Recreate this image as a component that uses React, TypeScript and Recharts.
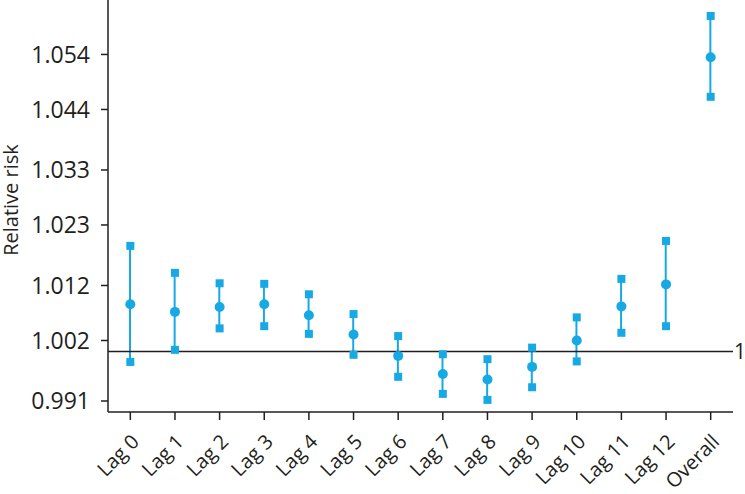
import { ComposedChart, Bar, Line, XAxis, YAxis, ReferenceLine } from 'recharts'

// categories + estimates
const lags = ['Lag 0', 'Lag 1', 'Lag 2', 'Lag 3', 'Lag 4', 'Lag 5', 'Lag 6', 'Lag 7', 'Lag 8', 'Lag 9', 'Lag 10', 'Lag 11', 'Lag 12', 'Overall']
const rr = [1.0086, 1.0072, 1.0081, 1.0086, 1.0066, 1.0031, 0.9992, 0.9959, 0.9949, 0.9972, 1.002, 1.0082, 1.0122, 1.0535]
const upper = [1.0192, 1.0143, 1.0124, 1.0123, 1.0104, 1.0068, 1.0028, 0.9995, 0.9986, 1.0007, 1.0062, 1.0132, 1.0201, 1.061]
const lower = [0.9981, 1.0003, 1.0042, 1.0046, 1.0032, 0.9994, 0.9954, 0.9923, 0.9912, 0.9935, 0.9982, 1.0034, 1.0046, 1.0463]
const yTicks = [0.991, 1.002, 1.012, 1.023, 1.033, 1.044, 1.054]

const BLUE = '#16a9e4'
const INK = '#231f20'
const FONT = '"Open Sans", sans-serif'

const chartData = lags.map((lag, i) => ({
  lag,
  rr: rr[i],
  upper: upper[i],
  lower: lower[i],
  range: [lower[i], upper[i]],
}))

const SquareDot = (props: any) => {
  const { cx, cy, index } = props
  if (cx == null || cy == null) return <g key={index} />
  return <rect key={index} x={cx - 4} y={cy - 4} width={8} height={8} fill={BLUE} />
}

const LagTick = (props: any) => {
  const { x, y, payload } = props
  const tx = x + 10
  const ty = y + 21
  return (
    <text
      x={tx}
      y={ty}
      transform={`rotate(-45, ${tx}, ${ty})`}
      textAnchor="end"
      fill={INK}
      fontSize={20}
      fontFamily={FONT}
    >
      {payload.value}
    </text>
  )
}

export default function App() {
  return (
    <div style={{ position: 'absolute', left: 0, top: 0 }}>
      <ComposedChart
        width={745}
        height={494}
        data={chartData}
        margin={{ top: 0, right: 12, left: 0, bottom: 0 }}
      >
        <XAxis
          dataKey="lag"
          height={82}
          interval={0}
          tick={<LagTick />}
          tickSize={8}
          stroke={INK}
          strokeWidth={1.5}
          tickLine={{ stroke: INK, strokeWidth: 1.5 }}
        />
        <YAxis
          type="number"
          width={108}
          domain={[0.989, 1.0639]}
          ticks={yTicks}
          allowDataOverflow
          tickFormatter={(v: number) => v.toFixed(3)}
          tickSize={7}
          tickMargin={11}
          stroke={INK}
          strokeWidth={1.5}
          tick={{ fill: INK, fontSize: 23, fontFamily: FONT }}
          label={{
            value: 'Relative risk',
            angle: -90,
            position: 'insideLeft',
            offset: 11,
            dy: -6,
            style: { fill: INK, fontSize: 20, fontFamily: FONT, textAnchor: 'middle' },
          }}
        />
        <ReferenceLine
          y={1}
          stroke={INK}
          strokeWidth={1.5}
          label={{ value: '1', position: 'right', offset: 1, fill: INK, fontSize: 21, fontFamily: FONT }}
        />
        <Bar dataKey="range" barSize={2} fill={BLUE} isAnimationActive={false} />
        <Line dataKey="upper" stroke="none" dot={<SquareDot />} activeDot={false} isAnimationActive={false} />
        <Line dataKey="lower" stroke="none" dot={<SquareDot />} activeDot={false} isAnimationActive={false} />
        <Line dataKey="rr" stroke="none" dot={{ r: 5, fill: BLUE, stroke: 'none' }} activeDot={false} isAnimationActive={false} />
      </ComposedChart>
    </div>
  )
}
